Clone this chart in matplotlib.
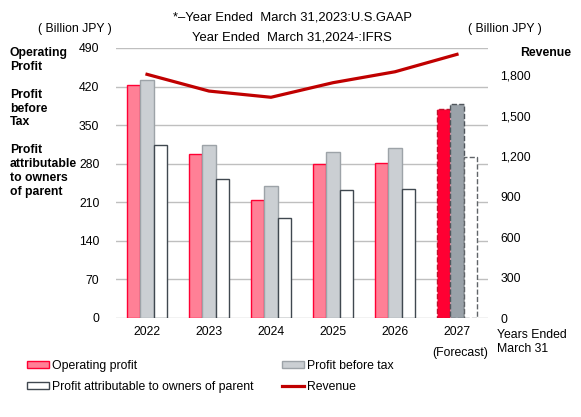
import matplotlib
matplotlib.use("Agg")
import matplotlib.pyplot as plt
from matplotlib.patches import Patch
from matplotlib.lines import Line2D
import numpy as np

plt.rcParams['font.family'] = ['Liberation Sans', 'DejaVu Sans']

years = ["2022", "2023", "2024", "2025", "2026", "2027"]
operating_profit = [423, 298, 215, 280, 281, 379]
profit_before_tax = [432, 314, 240, 302, 308, 388]
profit_attributable = [314, 253, 181, 233, 234, 292]
revenue = [1805, 1681, 1635, 1743, 1824, 1953]
left_ticks = [0, 70, 140, 210, 280, 350, 420, 490]
right_ticks = [0, 300, 600, 900, 1200, 1500, 1800]

FS = 8.8
fig = plt.figure(figsize=(5.81, 4.17), dpi=100)
ax = fig.add_axes([116/581, 1-318/417, (488-116)/581, (318-48)/417])
ax2 = ax.twinx()

x = np.arange(len(years))
w = 0.22
n = len(years)
op_c, op_e = '#FF8096', '#FF0033'
pbt_c, pbt_e = '#CBCFD3', '#9DA3A8'
att_c, att_e = '#FFFFFF', '#404850'

for i in range(n):
    fc = i == n - 1
    ax.bar(x[i]-w, operating_profit[i], w, color='#FF0033' if fc else op_c,
           edgecolor='#C0102A' if fc else op_e, linewidth=1.0,
           linestyle='--' if fc else '-', zorder=3)
    ax.bar(x[i], profit_before_tax[i], w, color='#9AA2A9' if fc else pbt_c,
           edgecolor='#50565C' if fc else pbt_e, linewidth=1.0,
           linestyle='--' if fc else '-', zorder=3)
    ax.bar(x[i]+w, profit_attributable[i], w, color=att_c,
           edgecolor='#606468' if fc else att_e, linewidth=1.0,
           linestyle='--' if fc else '-', zorder=3)

ax2.plot(x, revenue, color='#C00000', linewidth=2.3, zorder=4)

ax.set_xlim(-0.5, n-0.5)
ax.set_ylim(0, 490)
ax2.set_ylim(0, 2000)
ax.set_yticks(left_ticks)
ax.set_yticklabels([str(t) for t in left_ticks], fontsize=FS)
ax2.set_yticks(right_ticks)
ax2.set_yticklabels([f"{t:,}" for t in right_ticks], fontsize=FS)
ax.set_xticks(x)
ax.set_xticklabels(years, fontsize=FS)
ax.grid(axis='y', color='#BFBFBF', linewidth=1.0, zorder=0)
ax.set_axisbelow(True)
for a in (ax, ax2):
    for s in a.spines.values():
        s.set_visible(False)
ax.tick_params(axis='both', length=0)
ax.tick_params(axis='y', pad=12)
ax2.tick_params(axis='y', length=0, pad=9)
ax.tick_params(axis='x', pad=6)

# Texts
fig.text(292/581, 1-18/417, "*\u2013Year Ended  March 31,2023:U.S.GAAP", ha='center', va='center', fontsize=9.4)
fig.text(292/581, 1-37/417, "Year Ended  March 31,2024-:IFRS", ha='center', va='center', fontsize=9.4)
fig.text(75/581, 1-29/417, "( Billion JPY )", ha='center', va='center', fontsize=FS)
fig.text(505/581, 1-29/417, "( Billion JPY )", ha='center', va='center', fontsize=FS)
fig.text(520/581, 1-53/417, "Revenue", ha='left', va='center', fontsize=FS, fontweight='bold')
fig.text(10/581, 1-60/417, "Operating\nProfit", ha='left', va='center', fontsize=FS, fontweight='bold', linespacing=1.2)
fig.text(10/581, 1-108.5/417, "Profit\nbefore\nTax", ha='left', va='center', fontsize=FS, fontweight='bold', linespacing=1.2)
fig.text(10/581, 1-171/417, "Profit\nattributable\nto owners\nof parent", ha='left', va='center', fontsize=FS, fontweight='bold', linespacing=1.2)
fig.text(460/581, 1-353/417, "(Forecast)", ha='center', va='center', fontsize=FS)
fig.text(497/581, 1-342/417, "Years Ended\nMarch 31", ha='left', va='center', fontsize=FS, linespacing=1.15)

handles = [
    Patch(facecolor=op_c, edgecolor=op_e, linewidth=1.0),
    Patch(facecolor=att_c, edgecolor=att_e, linewidth=1.0),
    Patch(facecolor=pbt_c, edgecolor=pbt_e, linewidth=1.0),
    Line2D([0], [0], color='#C00000', linewidth=2.3),
]
labels = ["Operating profit", "Profit attributable to owners of parent",
          "Profit before tax", "Revenue"]
fig.legend(handles, labels, ncol=2, loc='upper left',
           bbox_to_anchor=(27/581, 1-360/417), frameon=False, fontsize=FS,
           handlelength=1.8, handleheight=0.5, handletextpad=0.25,
           columnspacing=2.3, labelspacing=0.75, borderpad=0, borderaxespad=0)

fig.savefig("out.png", dpi=100)
